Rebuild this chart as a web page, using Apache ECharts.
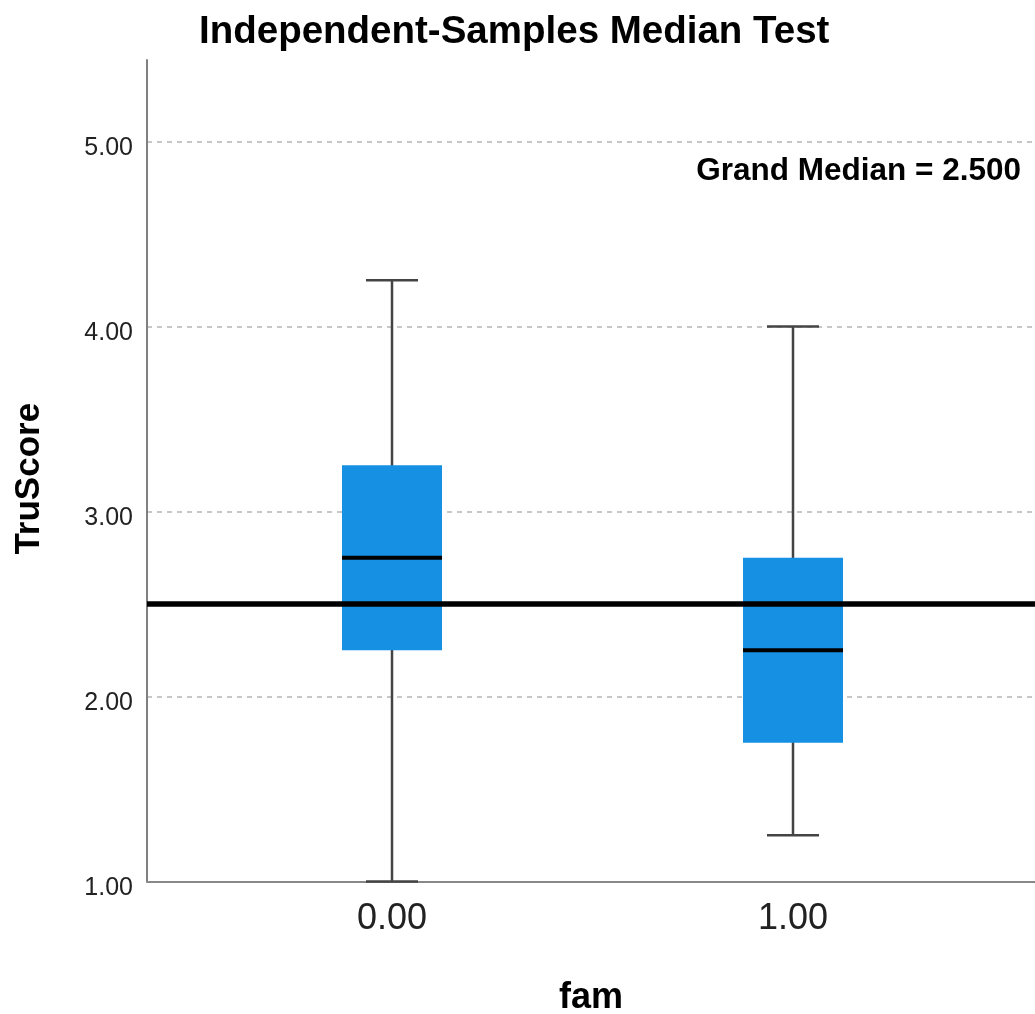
<!DOCTYPE html>
<html>
<head>
<meta charset="utf-8">
<script src="https://cdn.jsdelivr.net/npm/echarts@6/dist/echarts.min.js"></script>
<style>
  html, body { margin: 0; padding: 0; background: #fff; }
  #chart { width: 1035px; height: 1014px; }
</style>
</head>
<body>
<div id="chart"></div>
<script>
// ---- data ----
const famValues = [0, 1];
const whiskerLow = [1.00, 1.25];
const quartile1 = [2.25, 1.75];
const medians = [2.75, 2.25];
const quartile3 = [3.25, 2.75];
const whiskerHigh = [4.25, 4.00];
const grandMedian = 2.5;
const yTickValues = [1, 2, 3, 4, 5];

const boxData = famValues.map((f, i) => [f, whiskerLow[i], quartile1[i], medians[i], quartile3[i], whiskerHigh[i]]);

const FONT = '"Liberation Sans", Arial, sans-serif';
const chart = echarts.init(document.getElementById('chart'), null, { renderer: 'canvas' });

function renderBox(params, api) {
  const x = api.value(0);
  const pLow = api.coord([x, api.value(1)]);
  const pQ1 = api.coord([x, api.value(2)]);
  const pMed = api.coord([x, api.value(3)]);
  const pQ3 = api.coord([x, api.value(4)]);
  const pHigh = api.coord([x, api.value(5)]);
  const cx = pMed[0];
  const halfBox = 50, halfCap = 26;
  const whiskerStyle = { stroke: '#444', lineWidth: 2.5 };
  return {
    type: 'group',
    children: [
      { type: 'line', shape: { x1: cx, y1: pLow[1], x2: cx, y2: pHigh[1] }, style: whiskerStyle },
      { type: 'line', shape: { x1: cx - halfCap, y1: pLow[1], x2: cx + halfCap, y2: pLow[1] }, style: whiskerStyle },
      { type: 'line', shape: { x1: cx - halfCap, y1: pHigh[1], x2: cx + halfCap, y2: pHigh[1] }, style: whiskerStyle },
      { type: 'rect', shape: { x: cx - halfBox, y: pQ3[1], width: halfBox * 2, height: pQ1[1] - pQ3[1] }, style: { fill: '#1590e3' } },
      { type: 'line', shape: { x1: cx - halfBox, y1: pMed[1], x2: cx + halfBox, y2: pMed[1] }, style: { stroke: '#000', lineWidth: 4 } }
    ]
  };
}

const option = {
  backgroundColor: '#fff',
  animation: false,
  title: [
    {
      text: 'Independent-Samples Median Test',
      left: 194,
      top: 8,
      textStyle: { fontFamily: FONT, fontSize: 38.5, fontWeight: 'bold', color: '#000' }
    },
    {
      text: 'Grand Median = ' + grandMedian.toFixed(3),
      right: 9,
      top: 150,
      textStyle: { fontFamily: FONT, fontSize: 31.5, fontWeight: 'bold', color: '#000' }
    }
  ],
  grid: { left: 147, right: 0, top: 60, bottom: 132.5, containLabel: false, outerBoundsMode: 'none' },
  xAxis: {
    type: 'value',
    min: -0.611,
    max: 1.6035,
    name: 'fam',
    nameLocation: 'middle',
    nameGap: 99,
    nameTextStyle: { fontFamily: FONT, fontSize: 36, fontWeight: 'bold', color: '#000' },
    axisLine: { show: true, onZero: false, lineStyle: { color: '#888', width: 2 } },
    axisTick: { show: false },
    splitLine: { show: false },
    axisLabel: {
      customValues: famValues,
      formatter: v => Number(v).toFixed(2),
      fontFamily: FONT, fontSize: 36, color: '#222', margin: 20
    }
  },
  yAxis: {
    type: 'value',
    min: 1,
    max: 5.44,
    interval: 1,
    name: 'TruScore',
    nameLocation: 'middle',
    nameGap: 100,
    nameTextStyle: { fontFamily: FONT, fontSize: 35, fontWeight: 'bold', color: '#000', padding: [0, 16, 0, 0] },
    axisLine: { show: true, onZero: false, lineStyle: { color: '#808080', width: 2 } },
    axisTick: { show: false },
    axisLabel: {
      customValues: yTickValues,
      formatter: v => '{v|' + Number(v).toFixed(2) + '}',
      margin: 14,
      rich: {
        v: { fontFamily: FONT, fontSize: 25, color: '#222', padding: [13, 0, 0, 0] }
      }
    },
    splitLine: {
      show: true,
      showMinLine: false,
      showMaxLine: false,
      lineStyle: { color: '#b5b5b5', width: 1.5, type: [5, 5] }
    }
  },
  series: [
    {
      type: 'custom',
      renderItem: renderBox,
      data: boxData,
      encode: { x: 0, y: [1, 2, 3, 4, 5] },
      z: 2,
      markLine: {
        silent: true,
        symbol: ['none', 'none'],
        label: { show: false },
        lineStyle: { color: '#000', width: 5.5, type: 'solid' },
        data: [{ yAxis: grandMedian }],
        z: 5
      }
    }
  ]
};
chart.setOption(option);
</script>
</body>
</html>
